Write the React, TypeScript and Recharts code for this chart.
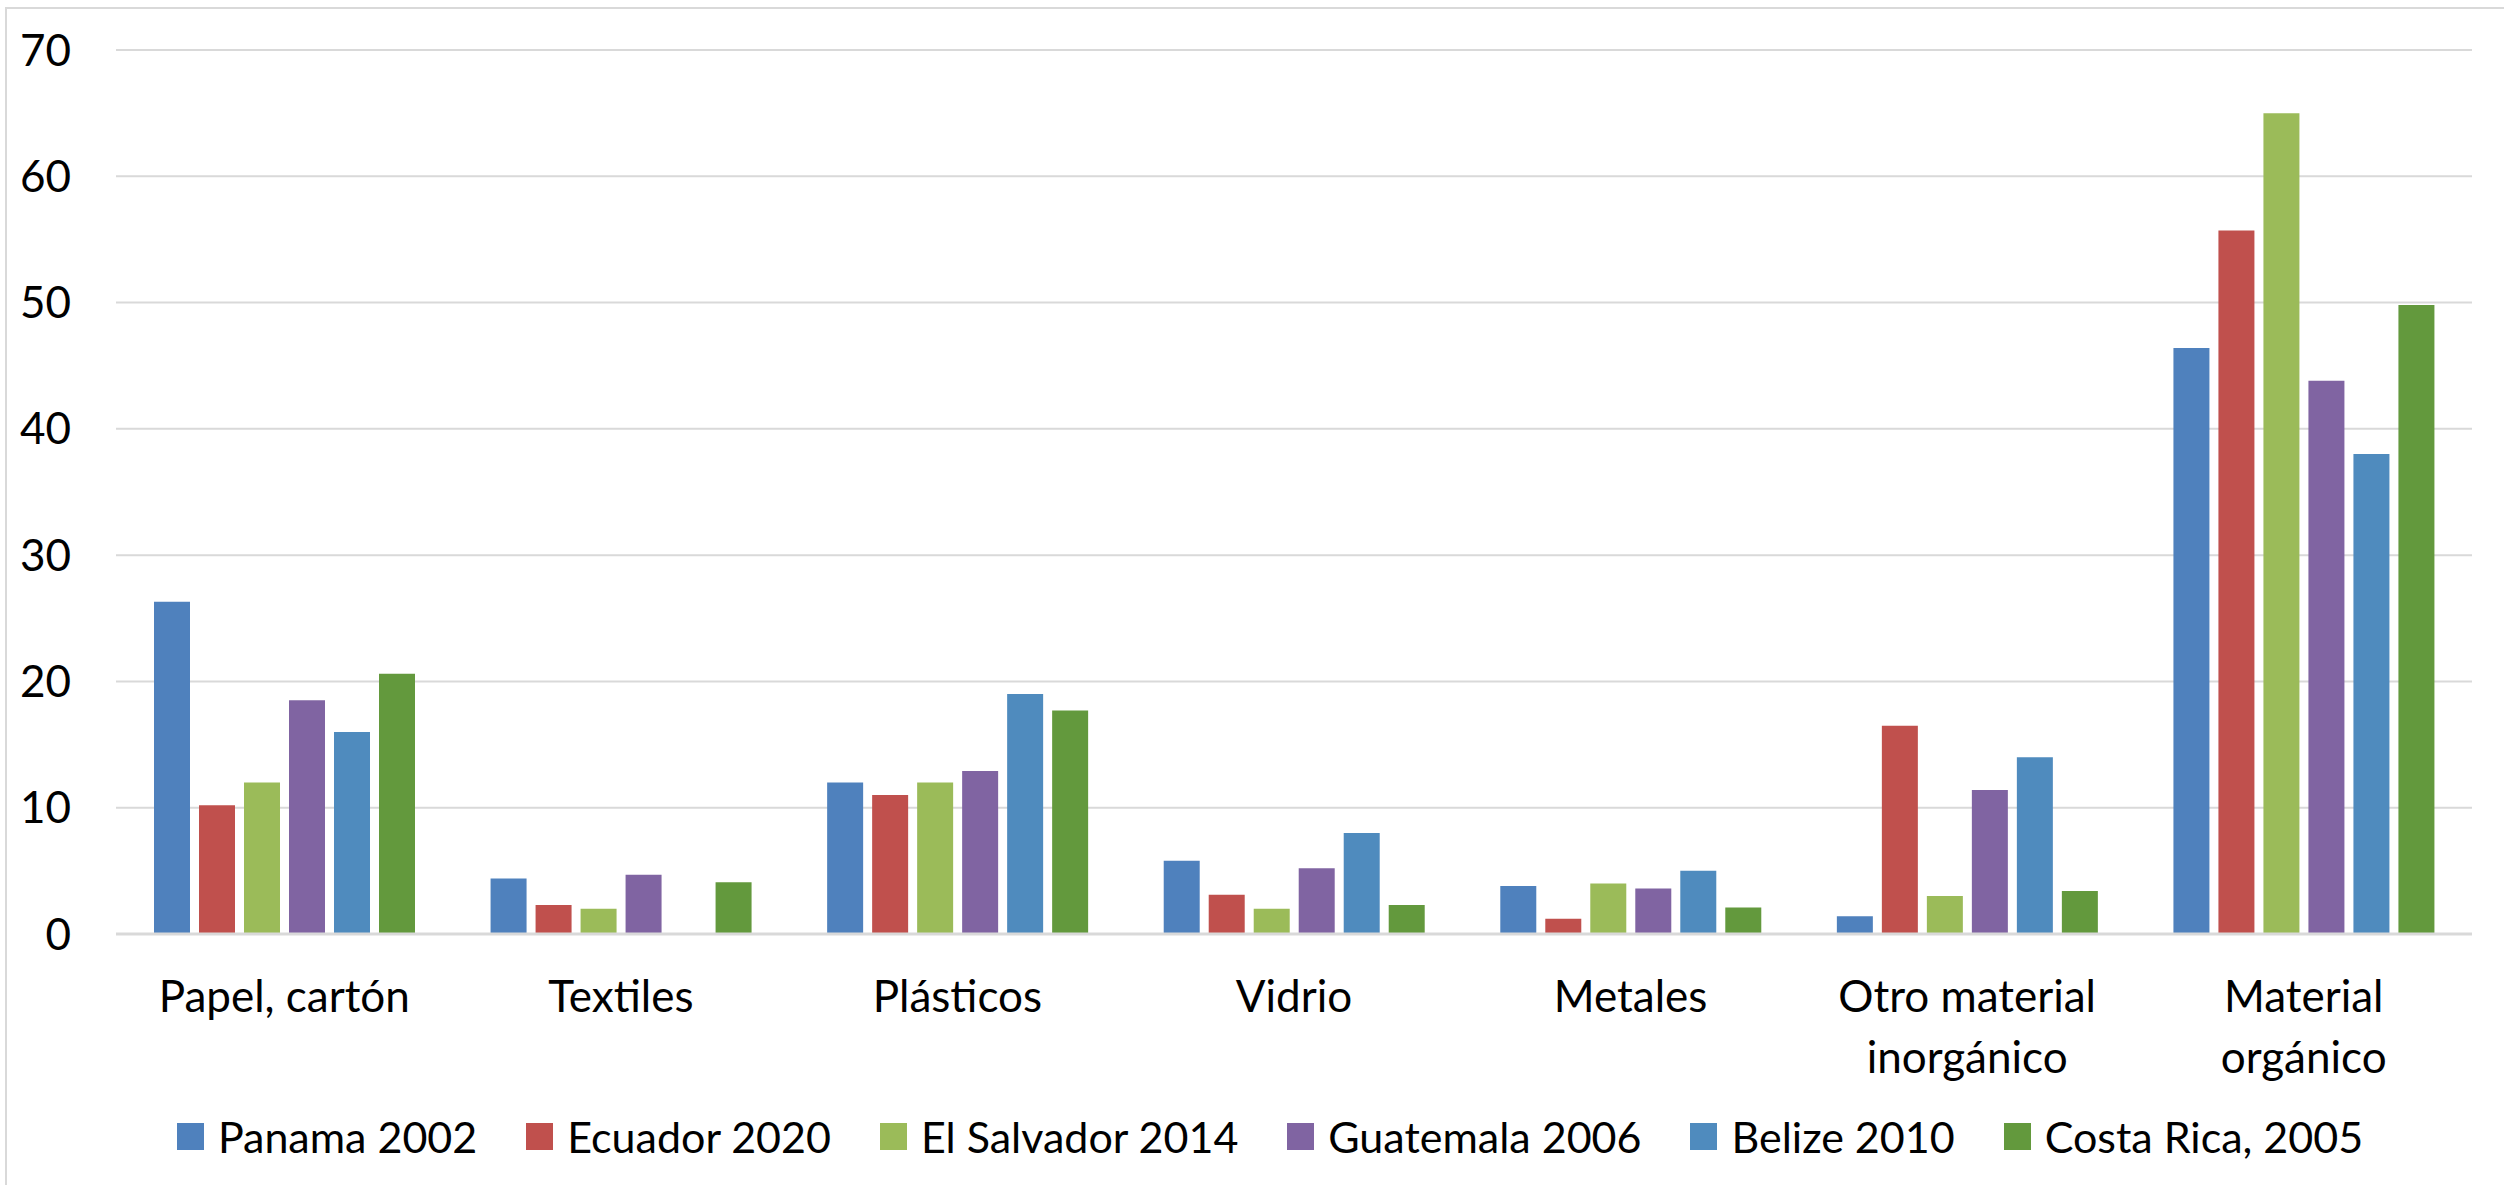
import { Bar, BarChart, CartesianGrid, Legend, XAxis, YAxis } from "recharts";

const categories = [
  "Papel, cartón",
  "Textiles",
  "Plásticos",
  "Vidrio",
  "Metales",
  "Otro material\ninorgánico",
  "Material\norgánico",
];

const panama2002 = [26.3, 4.4, 12.0, 5.8, 3.8, 1.4, 46.4];
const ecuador2020 = [10.2, 2.3, 11.0, 3.1, 1.2, 16.5, 55.7];
const elSalvador2014 = [12.0, 2.0, 12.0, 2.0, 4.0, 3.0, 65.0];
const guatemala2006 = [18.5, 4.7, 12.9, 5.2, 3.6, 11.4, 43.8];
const belize2010 = [16.0, null, 19.0, 8.0, 5.0, 14.0, 38.0];
const costaRica2005 = [20.6, 4.1, 17.7, 2.3, 2.1, 3.4, 49.8];

const yTicks = [0, 10, 20, 30, 40, 50, 60, 70];

const series = [
  { key: "panama", name: "Panama 2002", values: panama2002, color: "#4F81BD" },
  { key: "ecuador", name: "Ecuador 2020", values: ecuador2020, color: "#C0504D" },
  { key: "elsalvador", name: "El Salvador 2014", values: elSalvador2014, color: "#9BBB59" },
  { key: "guatemala", name: "Guatemala 2006", values: guatemala2006, color: "#8064A2" },
  { key: "belize", name: "Belize 2010", values: belize2010, color: "#4F8BBE" },
  { key: "costarica", name: "Costa Rica, 2005", values: costaRica2005, color: "#63993D" },
];

const data = categories.map((cat, i) => {
  const row: Record<string, string | number | null> = { cat };
  series.forEach((s) => {
    row[s.key] = s.values[i];
  });
  return row;
});

const FONT = "Lato, 'Liberation Sans', sans-serif";

function CategoryTick(props: any) {
  const { x, y, payload } = props;
  const lines = String(payload.value).split("\n");
  return (
    <text x={x} y={y} textAnchor="middle" fill="#000" fontSize={44} fontFamily={FONT}>
      {lines.map((line, i) => (
        <tspan key={i} x={x} dy={i === 0 ? 76 : 61}>
          {line}
        </tspan>
      ))}
    </text>
  );
}

function LegendContent(props: any) {
  // keep the series order, not the alphabetical one
  const items = [...(props.payload || [])].sort(
    (a: any, b: any) =>
      series.findIndex((s) => s.name === a.value) - series.findIndex((s) => s.name === b.value)
  );
  return (
    <div
      style={{
        display: "flex",
        justifyContent: "center",
        alignItems: "center",
        height: 70,
        paddingLeft: 68,
        fontFamily: FONT,
        fontSize: 43,
        color: "#000",
      }}
    >
      {items.map((it: any, i: number) => (
        <div key={i} style={{ display: "flex", alignItems: "center", marginRight: i < items.length - 1 ? 49 : 0 }}>
          <span style={{ width: 27, height: 27, background: it.color, marginRight: 14, display: "inline-block" }} />
          <span style={{ whiteSpace: "nowrap" }}>{it.value}</span>
        </div>
      ))}
    </div>
  );
}

export default function App() {
  return (
    <div style={{ position: "absolute", left: 0, top: 0, width: 2504, height: 1185, background: "#fff", overflow: "hidden" }}>
      <BarChart
        width={2504}
        height={1185}
        data={data}
        margin={{ top: 50, right: 32, bottom: 14, left: 0 }}
        barGap={9}
        barCategoryGap={38}
      >
        <CartesianGrid vertical={false} stroke="#d9d9d9" strokeWidth={2} />
        <XAxis
          dataKey="cat"
          height={167}
          tickSize={0}
          tickLine={false}
          axisLine={{ stroke: "#d9d9d9", strokeWidth: 3 }}
          tick={<CategoryTick />}
          interval={0}
        />
        <YAxis
          width={116}
          domain={[0, 70]}
          ticks={yTicks}
          tickSize={0}
          tickMargin={45}
          axisLine={false}
          tickLine={false}
          tick={{ fill: "#000", fontSize: 44, fontFamily: FONT }}
        />
        <Legend verticalAlign="bottom" wrapperStyle={{ height: 70 }} content={<LegendContent />} />
        {series.map((s) => (
          <Bar key={s.key} dataKey={s.key} name={s.name} fill={s.color} isAnimationActive={false} />
        ))}
      </BarChart>
      <div
        style={{
          position: "absolute",
          left: 5,
          top: 7,
          width: 2504,
          height: 1185,
          borderLeft: "2px solid #d9d9d9",
          borderTop: "2px solid #d9d9d9",
          pointerEvents: "none",
        }}
      />
    </div>
  );
}
